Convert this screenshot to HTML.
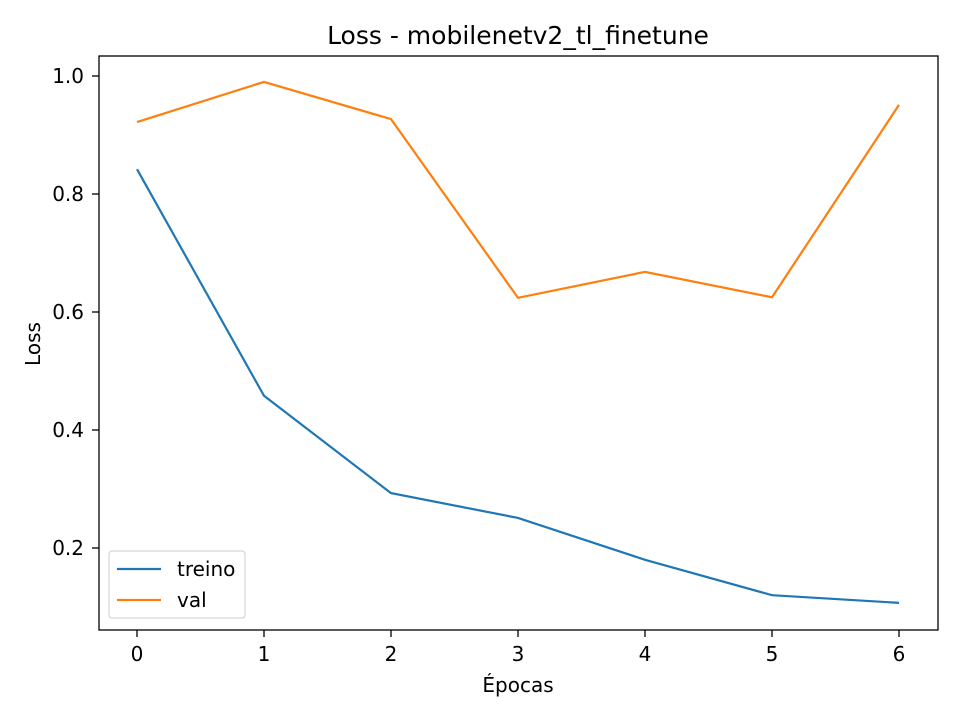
<!DOCTYPE html>
<html><head><meta charset="utf-8"><style>
body{margin:0;background:#fff;}
text{font-family:"DejaVu Sans","Liberation Sans",sans-serif;fill:#000;}
</style></head><body>
<svg id="chart" width="960" height="720" viewBox="0 0 960 720">
<rect width="960" height="720" fill="#fff"/>
<text x="518" y="44" font-size="25" text-anchor="middle">Loss - mobilenetv2_tl_finetune</text>
<g id="xticks"></g>
<g id="yticks"></g>
<g id="lines"></g>
<rect x="99" y="56" width="839" height="574" fill="none" stroke="#000" stroke-width="1.3"/>
<text x="518" y="692" font-size="20" text-anchor="middle">Épocas</text>
<text transform="translate(40,344) rotate(-90)" font-size="20" text-anchor="middle">Loss</text>
<g>
<rect x="109" y="551" width="136" height="67" rx="3" fill="#fff" fill-opacity="0.8" stroke="#ccc"/>
<line x1="117" y1="569" x2="161" y2="569" stroke="#1f77b4" stroke-width="2.2"/>
<text x="177" y="576" font-size="20">treino</text>
<line x1="117" y1="600" x2="161" y2="600" stroke="#ff7f0e" stroke-width="2.2"/>
<text x="177" y="607" font-size="20">val</text>
</g>
</svg>
<script>
const epochs=[0,1,2,3,4,5,6];
const treino=[0.842,0.458,0.293,0.251,0.180,0.120,0.107];
const val=[0.922,0.990,0.927,0.624,0.668,0.625,0.951];
const yTickLabels=["0.2","0.4","0.6","0.8","1.0"];
const NS="http://www.w3.org/2000/svg";
function xs(v){return 137+v*127;}
function ys(v){return 548-(v-0.2)*590;}
const xg=document.getElementById('xticks'),yg=document.getElementById('yticks'),lg=document.getElementById('lines');
epochs.forEach(e=>{
 const l=document.createElementNS(NS,'line');
 
 
 l.setAttribute('x1',xs(e));l.setAttribute('x2',xs(e));l.setAttribute('y1',630);l.setAttribute('y2',637);l.setAttribute('stroke','#000');l.setAttribute('stroke-width','1.3');
 xg.appendChild(l);
 const t=document.createElementNS(NS,'text');
 
 
 t.setAttribute('x',xs(e));t.setAttribute('y',661);t.setAttribute('font-size','20');t.setAttribute('text-anchor','middle');t.textContent=e;
 xg.appendChild(t);
});
yTickLabels.forEach(s=>{
 const v=parseFloat(s);
 const l=document.createElementNS(NS,'line');
 
 
 l.setAttribute('x1',92);l.setAttribute('x2',99);l.setAttribute('y1',ys(v));l.setAttribute('y2',ys(v));l.setAttribute('stroke','#000');l.setAttribute('stroke-width','1.3');
 yg.appendChild(l);
 const t=document.createElementNS(NS,'text');
 
 
 t.setAttribute('x',84);t.setAttribute('y',ys(v)+7);t.setAttribute('font-size','20');t.setAttribute('text-anchor','end');t.textContent=s;
 yg.appendChild(t);
});
function line(data,color,name){
 const p=document.createElementNS(NS,'polyline');
 
 
 p.setAttribute('points',data.map((v,i)=>xs(epochs[i])+','+ys(v)).join(' '));
 p.setAttribute('fill','none');p.setAttribute('stroke',color);p.setAttribute('stroke-width','2.2');
 lg.appendChild(p);
}
line(treino,'#1f77b4','treino-line');
line(val,'#ff7f0e','val-line');
</script>
</body></html>
